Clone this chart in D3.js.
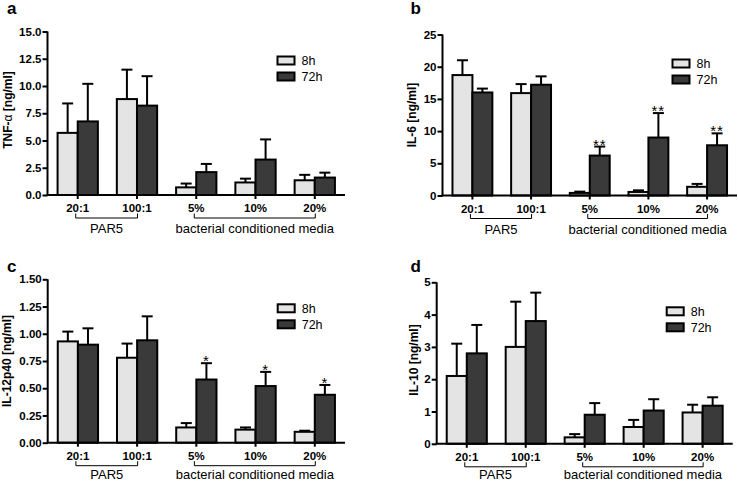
<!DOCTYPE html>
<html>
<head>
<meta charset="utf-8">
<script src="https://cdn.jsdelivr.net/npm/d3@7/dist/d3.min.js"></script>
<style>
  html, body { margin: 0; padding: 0; background: #fff; }
  svg { display: block; }
  text { font-family: "Liberation Sans", Arial, Helvetica, sans-serif; }
</style>
</head>
<body>
<svg id="chart" width="738" height="483"></svg>
<script>
// ---------------- DATA ----------------
const categories = ["20:1", "100:1", "5%", "10%", "20%"];
const seriesNames = ["8h", "72h"];
const groupLabels = ["PAR5", "bacterial conditioned media"];

// Panel a: TNF-alpha [ng/ml]
const tnf8h = [5.7, 8.8, 0.7, 1.15, 1.35];
const tnf8hErr = [2.7, 2.7, 0.35, 0.35, 0.5];
const tnf72h = [6.75, 8.2, 2.1, 3.25, 1.6];
const tnf72hErr = [3.45, 2.7, 0.75, 1.85, 0.45];
const tnfTicks = [0, 2.5, 5, 7.5, 10, 12.5, 15];
const tnfStars = ["", "", "", "", ""];

// Panel b: IL-6 [ng/ml]
const il6_8h = [18.7, 15.9, 0.4, 0.55, 1.35];
const il6_8hErr = [2.3, 1.4, 0.2, 0.25, 0.45];
const il6_72h = [16.0, 17.2, 6.2, 9.0, 7.8];
const il6_72hErr = [0.6, 1.3, 1.4, 3.8, 1.85];
const il6Ticks = [0, 5, 10, 15, 20, 25];
const il6Stars = ["", "", "**", "**", "**"];

// Panel c: IL-12p40 [ng/ml]
const il12_8h = [0.93, 0.78, 0.14, 0.12, 0.10];
const il12_8hErr = [0.09, 0.13, 0.04, 0.02, 0.01];
const il12_72h = [0.90, 0.94, 0.58, 0.52, 0.44];
const il12_72hErr = [0.15, 0.22, 0.15, 0.13, 0.09];
const il12Ticks = [0, 0.25, 0.5, 0.75, 1.0, 1.25, 1.5];
const il12Stars = ["", "", "*", "*", "*"];

// Panel d: IL-10 [ng/ml]
const il10_8h = [2.1, 3.0, 0.2, 0.52, 0.97];
const il10_8hErr = [1.0, 1.4, 0.1, 0.22, 0.24];
const il10_72h = [2.8, 3.8, 0.9, 1.03, 1.18];
const il10_72hErr = [0.88, 0.88, 0.36, 0.35, 0.26];
const il10Ticks = [0, 1, 2, 3, 4, 5];
const il10Stars = ["", "", "", "", ""];

// ---------------- LAYOUT ----------------
const colors = ["#e4e4e4", "#3a3a3a"];
const panels = [
  { letter: "a", lx: 7, ly: 14, label: ["TNF-", "\u03b1", " [ng/ml]"], labX: 12, labY: 110, gly: 38,
    x0: 47.5, x1: 345, yTop: 31.5, yBot: 195, max: 15, ticks: tnfTicks, fmt: d3.format(".1f"),
    s8: tnf8h, e8: tnf8hErr, s72: tnf72h, e72: tnf72hErr, stars: tnfStars },
  { letter: "b", lx: 410.5, ly: 14, label: ["IL-6 [ng/ml]"], labX: 416, labY: 115, gly: 38,
    x0: 442.5, x1: 737, yTop: 34.5, yBot: 195.5, max: 25, ticks: il6Ticks, fmt: d3.format("d"),
    s8: il6_8h, e8: il6_8hErr, s72: il6_72h, e72: il6_72hErr, stars: il6Stars },
  { letter: "c", lx: 7, ly: 272, label: ["IL-12p40 [ng/ml]"], labX: 11, labY: 361, gly: 36,
    x0: 47.7, x1: 345, yTop: 279.3, yBot: 442.7, max: 1.5, ticks: il12Ticks, fmt: d3.format(".2f"),
    s8: il12_8h, e8: il12_8hErr, s72: il12_72h, e72: il12_72hErr, stars: il12Stars },
  { letter: "d", lx: 410.5, ly: 272, label: ["IL-10 [ng/ml]"], labX: 418, labY: 360, gly: 35,
    x0: 436.7, x1: 732.7, yTop: 282.3, yBot: 443.8, max: 5, ticks: il10Ticks, fmt: d3.format("d"),
    s8: il10_8h, e8: il10_8hErr, s72: il10_72h, e72: il10_72hErr, stars: il10Stars }
];

const svg = d3.select("#chart");

panels.forEach(p => {
  const g = svg.append("g");
  const x = d3.scaleBand().domain(categories).range([p.x0, p.x1]).paddingInner(0.32).paddingOuter(0.17);
  const xs = d3.scaleBand().domain(seriesNames).range([0, x.bandwidth()]);
  const y = d3.scaleLinear().domain([0, p.max]).range([p.yBot, p.yTop]);

  const rows = [];
  categories.forEach((c, i) => {
    rows.push({ cat: c, s: "8h", v: p.s8[i], e: p.e8[i], star: "" });
    rows.push({ cat: c, s: "72h", v: p.s72[i], e: p.e72[i], star: p.stars[i] });
  });

  // error bars (upper only)
  const capW = 11;
  rows.forEach(r => {
    const cx = x(r.cat) + xs(r.s) + xs.bandwidth() / 2;
    g.append("line").attr("x1", cx).attr("x2", cx).attr("y1", y(r.v)).attr("y2", y(r.v + r.e))
      .attr("stroke", "#000").attr("stroke-width", 2);
    g.append("line").attr("x1", cx - capW / 2).attr("x2", cx + capW / 2)
      .attr("y1", y(r.v + r.e)).attr("y2", y(r.v + r.e))
      .attr("stroke", "#000").attr("stroke-width", 2);
    if (r.star) {
      g.append("text").attr("x", cx).attr("y", y(r.v + r.e) + 3)
        .attr("text-anchor", "middle").attr("font-size", 15).attr("fill", "#000")
        .attr("letter-spacing", "1px").text(r.star);
    }
  });

  // bars
  g.selectAll("rect.bar").data(rows).join("rect")
    .attr("class", "bar")
    .attr("x", d => x(d.cat) + xs(d.s))
    .attr("width", xs.bandwidth())
    .attr("y", d => y(d.v))
    .attr("height", d => y(0) - y(d.v))
    .attr("fill", d => colors[seriesNames.indexOf(d.s)])
    .attr("stroke", "#000").attr("stroke-width", 2);

  // y axis
  const yAxis = d3.axisLeft(y).tickValues(p.ticks).tickFormat(p.fmt).tickSize(5).tickPadding(1);
  const ya = g.append("g").attr("transform", `translate(${p.x0},0)`).call(yAxis);
  ya.select(".domain").attr("d", `M0,${p.yTop}V${p.yBot}`).attr("stroke-width", 2);
  ya.selectAll(".tick line").attr("stroke-width", 2);
  ya.selectAll(".tick text").attr("font-size", 11.5).attr("font-weight", "bold")
    .attr("font-family", "'Liberation Sans', Arial, sans-serif").attr("fill", "#000");

  // x axis
  const xAxis = d3.axisBottom(x).tickSize(4).tickPadding(3);
  const xa = g.append("g").attr("transform", `translate(0,${p.yBot})`).call(xAxis);
  xa.select(".domain").attr("d", `M${p.x0 - 1},0H${p.x1}`).attr("stroke-width", 2);
  xa.selectAll(".tick line").attr("stroke-width", 2);
  xa.selectAll(".tick text").attr("font-size", 11.5).attr("font-weight", "bold")
    .attr("font-family", "'Liberation Sans', Arial, sans-serif").attr("fill", "#000")
    .attr("dy", null).attr("y", 17);

  // group brackets
  const cx = c => x(c) + x.bandwidth() / 2;
  const groups = [[categories[0], categories[1], groupLabels[0]], [categories[2], categories[4], groupLabels[1]]];
  groups.forEach(([a, b, lab]) => {
    const xa1 = cx(a) - 2, xb1 = cx(b) + 0.5;
    const by = p.yBot + 23, bt = p.yBot + 18.5;
    g.append("path").attr("d", `M${xa1},${bt}V${by}H${xb1}V${bt}`)
      .attr("fill", "none").attr("stroke", "#000").attr("stroke-width", 1);
    g.append("text").attr("x", (xa1 + xb1) / 2).attr("y", p.yBot + p.gly)
      .attr("text-anchor", "middle").attr("font-size", 13).attr("fill", "#000").text(lab);
  });

  // legend
  const lgx = p.x0 + 230, lgy = p.yTop + 25;
  seriesNames.forEach((s, i) => {
    g.append("rect").attr("x", lgx).attr("y", lgy + i * 16).attr("width", 17).attr("height", 8)
      .attr("fill", colors[i]).attr("stroke", "#000").attr("stroke-width", 2);
    g.append("text").attr("x", lgx + 24).attr("y", lgy + i * 16 + 8.5)
      .attr("font-size", 12.5).attr("fill", "#000").text(s);
  });

  // y label
  const yl = g.append("text").attr("transform", `translate(${p.labX},${p.labY}) rotate(-90)`)
    .attr("text-anchor", "middle").attr("font-size", 12).attr("font-weight", "bold").attr("fill", "#000");
  p.label.forEach((t, i) => {
    const ts = yl.append("tspan").text(t);
    if (t === "\u03b1") ts.attr("font-weight", "normal");
  });

  // panel letter
  g.append("text").attr("x", p.lx).attr("y", p.ly).attr("font-size", 17).attr("font-weight", "bold")
    .attr("fill", "#000").text(p.letter);
});
</script>
</body>
</html>
